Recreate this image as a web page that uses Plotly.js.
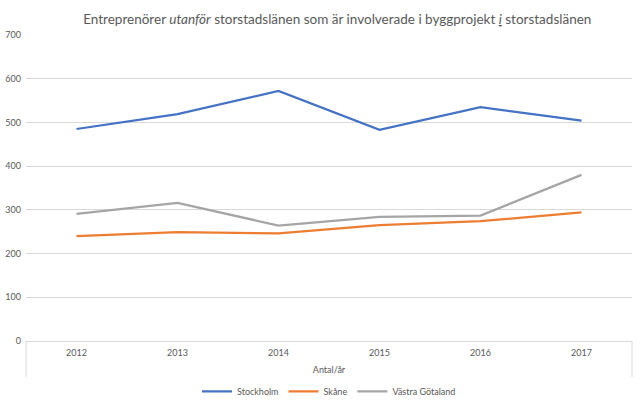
<!DOCTYPE html>
<html>
<head>
<meta charset="utf-8">
<script src="https://cdn.plot.ly/plotly-3.0.1.min.js"></script>
<style>html,body{margin:0;padding:0;background:#fff;}#chart{width:640px;height:402px;}</style>
</head>
<body>
<div id="chart"></div>
<script>
const years = ['2012', '2013', '2014', '2015', '2016', '2017'];
const stockholm = [485, 519, 572, 483, 535, 504];
const skane = [240, 249, 246, 265, 274, 294];
const vastraGotaland = [291, 316, 264, 284, 287, 380];
const seriesNames = ['Stockholm', 'Skåne', 'Västra Götaland'];
const yTicks = [0, 100, 200, 300, 400, 500, 600, 700];

const colors = ['#4472C4', '#ED7D31', '#A5A5A5'];
const allSeries = [stockholm, skane, vastraGotaland];
const font = 'Lato, "Open Sans", sans-serif';

const traces = allSeries.map((vals, i) => ({
  x: years, y: vals, name: seriesNames[i], type: 'scatter', mode: 'lines',
  line: {color: colors[i], width: 2.25}, hoverinfo: 'skip'
}));

const layout = {
  width: 640, height: 402,
  margin: {l: 26, r: 8, t: 35, b: 61, autoexpand: false},
  paper_bgcolor: '#fff', plot_bgcolor: '#fff',
  font: {family: font, color: '#595959', size: 9},
  title: {
    text: 'Entreprenörer <i>utanför</i> storstadslänen som är involverade i byggprojekt <i><span style="text-decoration:underline">i</span></i> storstadslänen',
    font: {family: font, size: 13.5, color: '#595959'},
    x: 0.527, xanchor: 'center', y: 0.952, yanchor: 'middle'
  },
  xaxis: {
    type: 'category', range: [-0.5, 5.5], showgrid: false, zeroline: false,
    showline: true, linecolor: '#d9d9d9', linewidth: 1, automargin: false,
    ticks: '', tickfont: {size: 9, color: '#595959'}, ticklabelstandoff: 3,
    title: {text: 'Antal/år', font: {size: 9, color: '#595959'}, standoff: 9},
    fixedrange: true
  },
  yaxis: {
    range: [0, 700], tickvals: yTicks, showgrid: true, gridcolor: '#d9d9d9', gridwidth: 1,
    zeroline: false, showline: false, ticks: '', tickfont: {size: 9, color: '#595959'},
    ticklabelstandoff: 4, fixedrange: true, automargin: false
  },
  legend: {
    orientation: 'h', x: 0.5, xanchor: 'center', xref: 'paper',
    yref: 'paper', y: -0.117, yanchor: 'top',
    font: {size: 9, color: '#595959'}, itemwidth: 30, traceorder: 'normal'
  },
  shapes: [
    {type: 'line', xref: 'paper', yref: 'paper', x0: 0, x1: 0, y0: 0, y1: -0.118, line: {color: '#d9d9d9', width: 1}},
    {type: 'line', xref: 'paper', yref: 'paper', x0: 1, x1: 1, y0: 0, y1: -0.118, line: {color: '#d9d9d9', width: 1}}
  ],
  showlegend: true
};

Plotly.newPlot('chart', traces, layout, {displayModeBar: false, staticPlot: true});
</script>
</body>
</html>
